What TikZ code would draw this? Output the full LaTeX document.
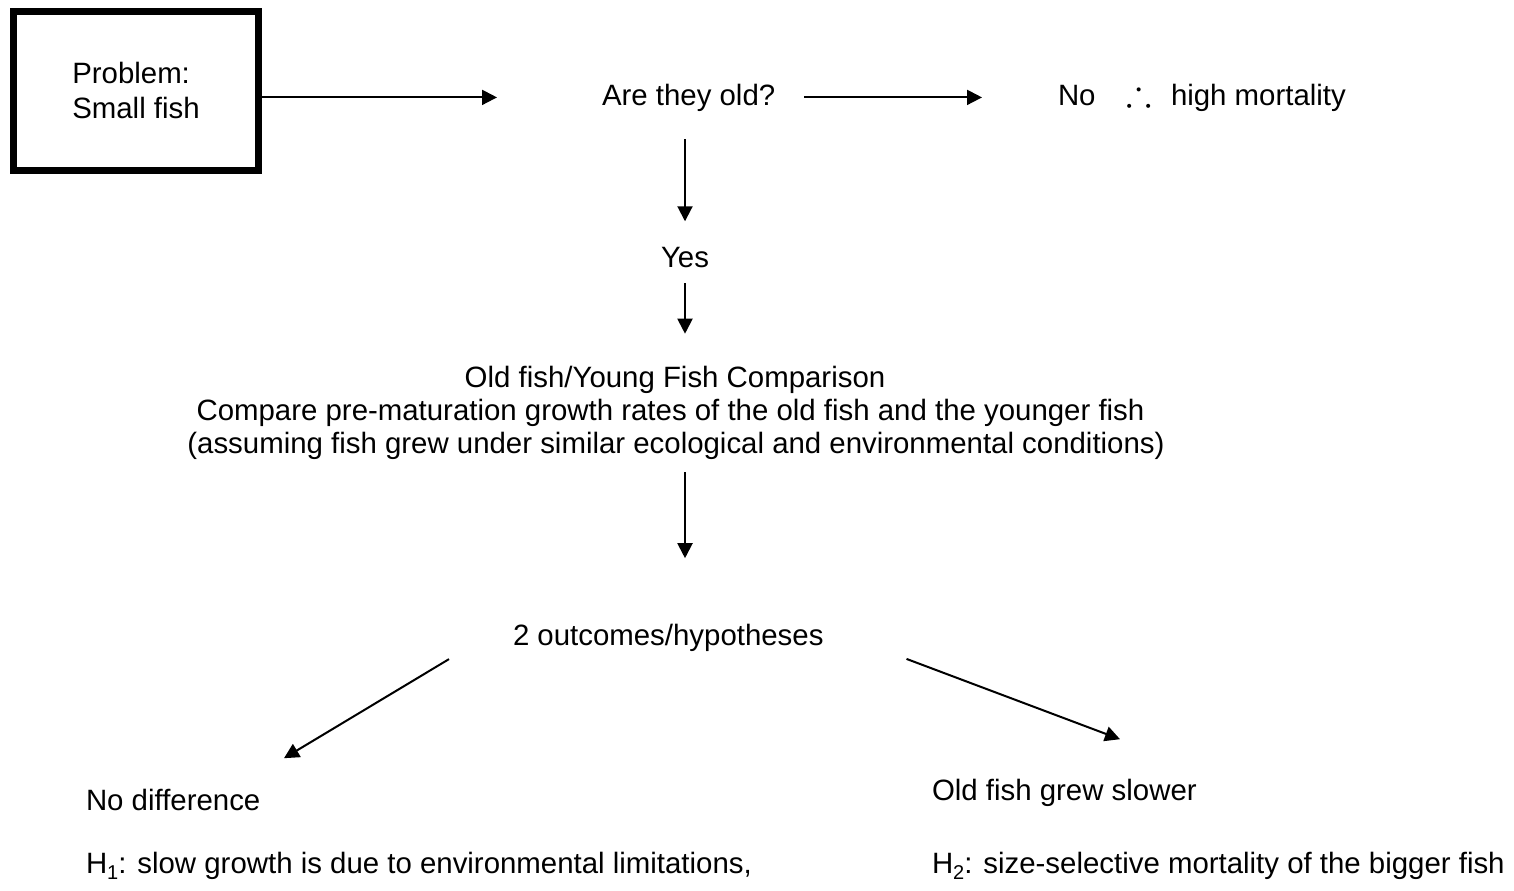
\documentclass[tikz,border=0pt]{standalone}
\usepackage{amssymb}
\usepackage{fontspec}
\setmainfont{Liberation Sans}
\usetikzlibrary{arrows.meta}
\tikzset{
  txt/.style={inner sep=0pt, outer sep=0pt, font=\fontsize{14.7pt}{17.5pt}\selectfont},
  arr/.style={line width=1pt, -{Triangle[length=7.5pt,width=7.5pt]}},
  probbox/.style={draw, line width=3.5pt, minimum width=122.5pt, minimum height=79.75pt, align=left, inner sep=0pt}
}
\begin{document}
\begin{tikzpicture}[x=0.5pt,y=-0.5pt]
\useasboundingbox (0,0) rectangle (1514,890);
% nodes
\node[probbox, txt] (box) at (136,90.75) {Problem:\\Small fish};
\node[txt, anchor=base west] (q1) at (602,105) {Are they old?};
\node[txt, anchor=base west] (no) at (1058,105) {No};
\node[txt, anchor=base west, font=\fontsize{19pt}{20pt}\selectfont] (therefore) at (1126,105) {$\therefore$};
\node[txt, anchor=base west] (mort) at (1171,105) {high mortality};
\node[txt, anchor=base] (yes) at (685,267) {Yes};
\node[txt, anchor=base] (c1) at (675,387) {Old fish/Young Fish Comparison};
\node[txt, anchor=base] (c2) at (670.5,420) {Compare pre-maturation growth rates of the old fish and the younger fish};
\node[txt, anchor=base] (c3) at (676,453) {(assuming fish grew under similar ecological and environmental conditions)};
\node[txt, anchor=base west] (out) at (513,645) {2 outcomes/hypotheses};
\node[txt, anchor=base west] (nodiff) at (86,810) {No difference};
\node[txt, anchor=base west] (h1) at (86,873) {H\raisebox{-3pt}{\fontsize{10pt}{10pt}\selectfont 1}: slow growth is due to environmental limitations,};
\node[txt, anchor=base west] (slower) at (932,800) {Old fish grew slower};
\node[txt, anchor=base west] (h2) at (932,873) {H\raisebox{-3pt}{\fontsize{10pt}{10pt}\selectfont 2}: size-selective mortality of the bigger fish};
% connectors
\draw[arr, shorten >=52.5pt] (box.east |- q1.center) -- (q1.west);
\draw[arr, shorten <=14.5pt, shorten >=38pt] (q1.east) -- (no.west |- q1.east);
\draw[arr, shorten <=14pt, shorten >=12.75pt] (q1.south -| yes) -- (yes.north);
\draw[arr, shorten <=8pt, shorten >=16pt] (yes.south) -- (c1.north -| yes);
\draw[arr, shorten <=6.5pt, shorten >=32.75pt] (c3.south -| yes) -- (out.north -| yes);
\draw[arr] ([xshift=-32pt,yshift=-4pt]out.south west) -- ([xshift=99pt,yshift=15.25pt]nodiff.north west);
\draw[arr] ([xshift=41.5pt,yshift=-3.9pt]out.south east) -- ([xshift=94pt,yshift=19.75pt]slower.north west);
\end{tikzpicture}
\end{document}
